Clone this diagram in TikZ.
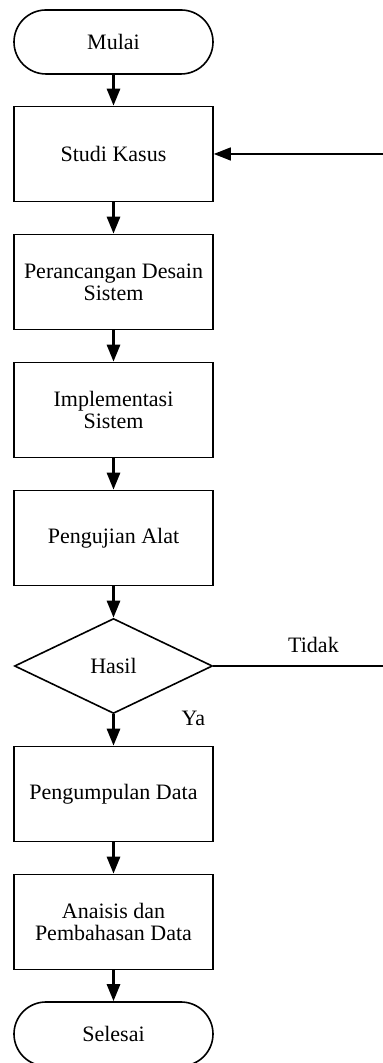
\documentclass[tikz,border=0pt]{standalone}
\usepackage{fontspec}
\setmainfont{Liberation Serif}
\usetikzlibrary{shapes.geometric,arrows.meta}

\tikzstyle{block} = [draw, line width=0.8pt, rectangle, align=center,
    minimum width=99.5pt, minimum height=47.5pt]
\tikzstyle{terminal} = [draw, line width=0.8pt, rectangle, rounded corners=16pt,
    minimum width=99.5pt, minimum height=32pt]
\tikzstyle{decision} = [draw, line width=0.8pt, diamond, aspect=2, inner sep=0pt,
    minimum width=99pt, minimum height=47.5pt]
\tikzstyle{corner} = [coordinate]
\tikzstyle{flow} = [line width=1.4pt, -{Triangle[length=8.5pt,width=6.5pt]}]
\tikzstyle{back} = [line width=0.7pt, -{Triangle[length=8.5pt,width=6.5pt]}]

\begin{document}
\begin{tikzpicture}[auto, node distance=64pt, font=\fontsize{11pt}{11pt}\selectfont]
    \useasboundingbox (0,0) rectangle (191pt,531.5pt);
    \node [terminal] (mulai) at (56.75pt,510.5pt) {Mulai};
    \node [block, below of=mulai, node distance=56pt] (studi) {Studi Kasus};
    \node [block, below of=studi] (desain) {Perancangan Desain\\Sistem};
    \node [block, below of=desain] (implementasi) {Implementasi\\Sistem};
    \node [block, below of=implementasi] (uji) {Pengujian Alat};
    \node [decision, below of=uji] (hasil) {Hasil};
    \node [block, below of=hasil] (kumpul) {Pengumpulan Data};
    \node [block, below of=kumpul] (bahas) {Anaisis dan\\Pembahasan Data};
    \node [terminal, below of=bahas, node distance=56pt] (selesai) {Selesai};
    \node [corner, right of=hasil, node distance=136.25pt] (balik) {};
    \draw [flow] (mulai) -- (studi);
    \draw [flow] (studi) -- (desain);
    \draw [flow] (desain) -- (implementasi);
    \draw [flow] (implementasi) -- (uji);
    \draw [flow] (uji) -- (hasil);
    \draw [flow] (hasil) -- node [pos=0.12, right=30pt] {Ya} (kumpul);
    \draw [flow] (kumpul) -- (bahas);
    \draw [flow] (bahas) -- (selesai);
    \draw [back] (hasil) -- node [above, pos=0.58, yshift=3pt] {Tidak} (balik) |- (studi);
\end{tikzpicture}
\end{document}
